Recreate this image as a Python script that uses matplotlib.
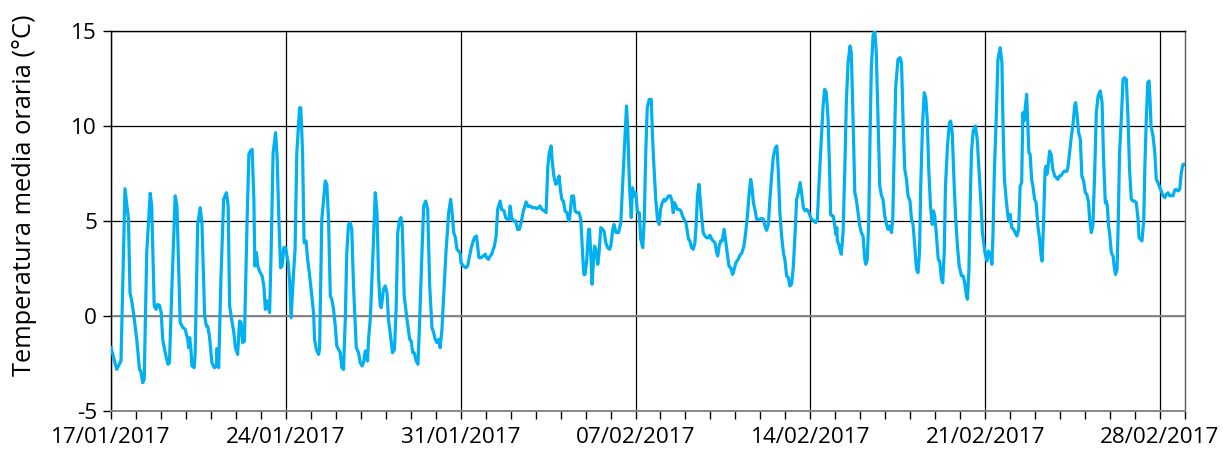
import matplotlib
matplotlib.use("Agg")
import matplotlib.pyplot as plt
import matplotlib.dates as mdates
import pandas as pd

plt.rcParams['font.family'] = ['Open Sans', 'DejaVu Sans']

START = "2017-01-17"
END = "2017-03-01"

# ---- data: (days since 17/01/2017 00:00, hourly mean temperature in °C) ----
week1_days = [0.00, 0.23, 0.36, 0.40, 0.56, 0.70, 0.76, 0.83, 0.90, 1.03,
              1.14, 1.19, 1.27, 1.33, 1.43, 1.57, 1.63, 1.73, 1.81, 1.86,
              1.94, 2.01, 2.07, 2.17, 2.28, 2.34, 2.44, 2.57, 2.64, 2.77,
              2.88, 2.97, 3.07, 3.11, 3.15, 3.20, 3.24, 3.33, 3.37, 3.47,
              3.57, 3.64, 3.75, 3.82, 3.87, 3.94, 4.04, 4.14, 4.22, 4.24,
              4.31, 4.40, 4.51, 4.62, 4.69, 4.75, 4.85, 4.91, 4.98, 5.07,
              5.15, 5.21, 5.27, 5.34, 5.45, 5.52, 5.58, 5.65, 5.72, 5.76,
              5.82, 5.88, 5.94, 6.05, 6.12, 6.18, 6.25, 6.35, 6.41, 6.49,
              6.59, 6.65, 6.72, 6.79, 6.85, 6.92, 6.99]
week1_temp = [-1.67, -2.81, -2.46, -2.37, 6.70, 5.09, 1.23, 0.79, 0.18, -1.23,
              -2.81, -2.89, -3.51, -3.33, 3.33, 6.46, 5.79, 0.53, 0.35, 0.61,
              0.56, 0.18, -1.23, -1.93, -2.54, -2.46, 1.58, 6.32, 5.79, -0.35,
              -0.61, -0.70, -1.23, -1.67, -1.14, -1.75, -2.63, -2.72, -1.93, 4.82,
              5.70, 4.91, 0.00, -0.53, -0.53, -1.05, -2.46, -2.72, -2.63, -1.72,
              -2.72, 1.93, 6.14, 6.49, 5.79, 0.53, -0.35, -0.79, -1.67, -2.02,
              -0.26, -0.35, -1.40, -1.32, 5.09, 8.51, 8.68, 8.77, 6.14, 2.63,
              3.33, 2.63, 2.37, 2.11, 1.58, 0.35, 0.79, 0.18, 3.33, 8.60,
              9.65, 8.42, 5.09, 2.54, 2.63, 3.60, 3.60]

week2_days = [7.09, 7.15, 7.21, 7.31, 7.37, 7.44, 7.55, 7.60, 7.67, 7.73,
              7.81, 7.87, 7.94, 8.04, 8.11, 8.15, 8.22, 8.31, 8.35, 8.44,
              8.58, 8.64, 8.71, 8.78, 8.84, 8.91, 8.98, 9.04, 9.11, 9.18,
              9.24, 9.31, 9.38, 9.44, 9.51, 9.58, 9.64, 9.71, 9.82, 9.91,
              9.98, 10.05, 10.11, 10.18, 10.22, 10.27, 10.31, 10.38, 10.49, 10.58,
              10.65, 10.71, 10.78, 10.82, 10.91, 10.98, 11.05, 11.11, 11.21, 11.27,
              11.35, 11.42, 11.48, 11.56, 11.61, 11.66, 11.74, 11.85, 11.96, 12.02,
              12.08, 12.14, 12.22, 12.29, 12.36, 12.45, 12.52, 12.60, 12.68, 12.76,
              12.85, 12.92, 12.98, 13.05, 13.12, 13.18, 13.25, 13.32, 13.41, 13.52,
              13.60, 13.67, 13.72, 13.79, 13.85, 13.92, 13.99]
week2_temp = [2.81, 1.93, -0.09, 2.28, 3.51, 8.60, 10.96, 10.96, 8.60, 3.86,
              3.95, 2.98, 2.28, 1.05, 0.18, -1.23, -1.75, -2.02, -1.75, 5.09,
              7.11, 6.93, 5.09, 1.05, 0.88, 0.35, -0.53, -1.58, -1.75, -1.93,
              -2.72, -2.81, -0.18, 3.33, 4.82, 4.91, 4.56, 1.58, -1.67, -1.93,
              -2.46, -2.63, -2.46, -1.84, -1.93, -2.37, -1.23, -0.18, 3.33, 6.49,
              5.44, 2.11, 0.53, 0.44, 1.40, 1.58, 1.23, -0.18, -1.23, -1.93,
              -1.75, 0.53, 4.39, 5.09, 5.18, 4.74, 1.05, -0.18, -1.23, -1.32,
              -1.93, -1.93, -2.37, -2.54, -0.18, 3.33, 5.79, 6.05, 5.61, 1.58,
              -0.61, -0.88, -1.23, -1.40, -1.23, -1.67, -0.70, 1.05, 3.33, 5.44,
              6.14, 5.26, 4.39, 4.12, 3.51, 3.42, 3.25]

week3_days = [14.01, 14.11, 14.20, 14.28, 14.37, 14.44, 14.55, 14.63, 14.68, 14.73,
              14.81, 14.91, 14.98, 15.04, 15.11, 15.18, 15.24, 15.35, 15.42, 15.48,
              15.58, 15.64, 15.74, 15.80, 15.87, 15.94, 15.98, 16.04, 16.11, 16.20,
              16.28, 16.35, 16.42, 16.51, 16.62, 16.71, 16.78, 16.87, 16.98, 17.05,
              17.11, 17.18, 17.25, 17.35, 17.42, 17.49, 17.55, 17.62, 17.67, 17.73,
              17.81, 17.87, 17.94, 17.99, 18.05, 18.11, 18.18, 18.25, 18.31, 18.35,
              18.41, 18.45, 18.52, 18.58, 18.65, 18.74, 18.81, 18.88, 18.93, 18.98,
              19.05, 19.12, 19.16, 19.22, 19.26, 19.32, 19.36, 19.41, 19.49, 19.54,
              19.61, 19.68, 19.74, 19.81, 19.88, 19.96, 20.01, 20.09, 20.14, 20.22,
              20.32, 20.41, 20.48, 20.56, 20.64, 20.69, 20.76, 20.83, 20.88, 20.95]
week3_temp = [2.81, 2.63, 2.54, 2.63, 3.25, 3.68, 4.12, 4.21, 3.68, 3.07,
              3.07, 3.16, 3.25, 3.07, 2.98, 3.16, 3.25, 3.68, 4.21, 5.61,
              6.05, 5.61, 5.53, 5.18, 5.09, 5.09, 5.79, 5.18, 5.00, 5.00,
              4.56, 4.56, 4.91, 5.53, 6.00, 5.75, 5.79, 5.70, 5.70, 5.65,
              5.70, 5.79, 5.61, 5.53, 5.44, 7.89, 8.60, 8.95, 8.07, 7.37,
              6.93, 7.02, 7.37, 6.67, 6.14, 6.05, 5.53, 5.44, 5.09, 5.00,
              5.79, 6.32, 6.32, 5.53, 5.44, 5.44, 5.09, 3.33, 2.19, 2.19,
              2.98, 4.56, 4.56, 2.98, 1.67, 2.98, 3.68, 3.51, 2.72, 3.33,
              4.65, 4.56, 4.47, 3.86, 3.60, 3.51, 3.68, 4.56, 4.82, 4.39,
              4.39, 4.91, 6.84, 8.95, 11.05, 9.82, 6.84, 5.18, 6.75, 6.32]

week4_days = [21.01, 21.08, 21.15, 21.21, 21.29, 21.35, 21.41, 21.47, 21.55, 21.63,
              21.67, 21.73, 21.81, 21.88, 21.95, 22.00, 22.07, 22.14, 22.18, 22.24,
              22.32, 22.40, 22.46, 22.51, 22.56, 22.62, 22.67, 22.75, 22.82, 22.88,
              22.95, 23.02, 23.08, 23.12, 23.18, 23.24, 23.31, 23.38, 23.44, 23.48,
              23.54, 23.59, 23.64, 23.71, 23.78, 23.85, 23.91, 23.98, 24.05, 24.11,
              24.18, 24.25, 24.29, 24.35, 24.41, 24.47, 24.55, 24.61, 24.67, 24.74,
              24.81, 24.89, 24.95, 25.02, 25.11, 25.18, 25.26, 25.34, 25.41, 25.48,
              25.54, 25.61, 25.66, 25.72, 25.78, 25.85, 25.92, 25.98, 26.05, 26.12,
              26.18, 26.25, 26.32, 26.38, 26.45, 26.52, 26.60, 26.66, 26.72, 26.78,
              26.85, 26.92, 26.98, 27.05, 27.12, 27.18, 27.25, 27.32, 27.39, 27.45,
              27.52, 27.59, 27.65, 27.72, 27.79, 27.85, 27.92, 27.99]
week4_temp = [6.49, 5.44, 5.44, 4.04, 3.60, 5.09, 8.60, 10.96, 11.40, 11.40,
              9.82, 8.07, 6.14, 5.09, 4.82, 5.61, 5.96, 6.14, 6.05, 6.14,
              6.32, 6.32, 6.05, 5.44, 5.96, 5.79, 5.61, 5.61, 5.53, 5.26,
              5.09, 4.91, 4.39, 4.04, 3.95, 3.60, 3.51, 3.86, 5.09, 6.32,
              6.93, 6.14, 5.35, 4.39, 4.21, 4.12, 4.12, 4.25, 4.04, 3.95,
              3.86, 3.33, 3.16, 3.68, 3.95, 3.95, 4.56, 3.95, 3.33, 2.63,
              2.54, 2.19, 2.46, 2.81, 2.98, 3.19, 3.33, 3.68, 4.39, 5.26,
              6.32, 7.19, 6.84, 5.96, 5.61, 5.09, 5.09, 5.09, 5.14, 5.09,
              4.74, 4.51, 4.82, 6.14, 7.37, 8.42, 8.86, 8.95, 7.54, 5.44,
              4.21, 3.33, 2.98, 2.11, 2.02, 1.58, 1.67, 2.63, 4.39, 6.14,
              6.49, 7.02, 6.49, 5.70, 5.53, 5.61, 5.53, 5.26]

week5_days = [28.05, 28.15, 28.21, 28.28, 28.33, 28.41, 28.51, 28.57, 28.64, 28.71,
              28.77, 28.81, 28.87, 28.92, 28.98, 29.02, 29.06, 29.08, 29.14, 29.18,
              29.24, 29.31, 29.38, 29.44, 29.51, 29.59, 29.64, 29.71, 29.78, 29.84,
              29.91, 29.98, 30.04, 30.11, 30.18, 30.22, 30.28, 30.34, 30.39, 30.44,
              30.51, 30.58, 30.64, 30.71, 30.78, 30.85, 30.91, 30.98, 31.05, 31.11,
              31.18, 31.25, 31.30, 31.35, 31.42, 31.51, 31.59, 31.65, 31.71, 31.78,
              31.85, 31.91, 31.99, 32.05, 32.11, 32.18, 32.25, 32.31, 32.37, 32.42,
              32.49, 32.56, 32.62, 32.68, 32.74, 32.81, 32.88, 32.93, 32.98, 33.04,
              33.12, 33.18, 33.25, 33.30, 33.36, 33.41, 33.49, 33.57, 33.62, 33.68,
              33.76, 33.82, 33.89, 33.96, 34.05, 34.12, 34.18, 34.25, 34.29, 34.35,
              34.40, 34.45, 34.52, 34.61, 34.68, 34.75, 34.83, 34.89, 34.99]
week5_temp = [5.09, 5.00, 4.91, 5.09, 6.49, 8.60, 11.05, 11.93, 11.75, 10.35,
              7.72, 5.35, 5.26, 5.26, 4.74, 4.30, 4.65, 3.95, 3.77, 3.51,
              3.25, 4.39, 7.72, 11.23, 13.33, 14.21, 13.86, 10.35, 6.49, 6.14,
              5.44, 4.74, 4.39, 4.21, 2.98, 2.72, 2.98, 5.09, 9.47, 12.98,
              14.74, 15.05, 13.86, 10.35, 6.84, 6.32, 6.14, 5.26, 4.82, 4.56,
              4.74, 4.39, 5.09, 8.25, 12.11, 13.51, 13.60, 13.33, 10.35, 7.72,
              7.19, 6.32, 6.05, 5.09, 4.82, 3.68, 2.46, 2.28, 3.33, 6.84,
              10.00, 11.75, 11.49, 10.35, 7.72, 5.79, 4.82, 5.53, 5.26, 4.39,
              2.98, 2.89, 1.93, 1.75, 3.33, 6.84, 8.95, 10.18, 10.26, 9.65,
              6.84, 5.09, 3.68, 2.63, 2.11, 2.11, 1.75, 1.05, 0.88, 2.46,
              5.96, 8.60, 9.74, 10.00, 9.30, 7.72, 5.96, 4.39, 3.33]

week6_days = [35.07, 35.13, 35.20, 35.27, 35.31, 35.37, 35.44, 35.51, 35.60, 35.67,
              35.71, 35.77, 35.84, 35.91, 35.95, 36.00, 36.06, 36.14, 36.20, 36.27,
              36.34, 36.40, 36.46, 36.51, 36.55, 36.60, 36.66, 36.70, 36.75, 36.80,
              36.86, 36.91, 36.98, 37.04, 37.11, 37.18, 37.24, 37.28, 37.34, 37.40,
              37.44, 37.48, 37.52, 37.58, 37.64, 37.71, 37.78, 37.85, 37.91, 37.98,
              38.05, 38.11, 38.18, 38.27, 38.31, 38.38, 38.45, 38.51, 38.58, 38.62,
              38.67, 38.74, 38.81, 38.87, 38.94, 39.01, 39.07, 39.14, 39.18, 39.25,
              39.31, 39.38, 39.45, 39.52, 39.61, 39.68, 39.74, 39.81, 39.85, 39.89,
              39.94, 39.98, 40.05, 40.12, 40.17, 40.22, 40.28, 40.33, 40.38, 40.45,
              40.52, 40.58, 40.65, 40.72, 40.78, 40.85, 40.92, 40.98, 41.05, 41.12,
              41.16, 41.21, 41.28, 41.35, 41.39, 41.45, 41.51, 41.56, 41.60, 41.64,
              41.72, 41.79, 41.85, 41.92, 41.99]
week6_temp = [2.89, 3.42, 3.25, 2.72, 4.21, 7.72, 10.35, 13.51, 14.12, 13.33,
              10.35, 7.19, 6.14, 5.26, 5.00, 5.35, 4.65, 4.56, 4.39, 4.21,
              4.56, 6.84, 7.02, 10.70, 10.26, 10.88, 11.67, 10.35, 8.60, 8.51,
              7.19, 6.84, 6.14, 5.96, 4.74, 4.04, 3.16, 2.89, 5.09, 7.72,
              7.89, 7.46, 7.89, 8.68, 8.51, 7.72, 7.37, 7.28, 7.19, 7.37,
              7.40, 7.54, 7.63, 7.61, 7.81, 8.60, 9.47, 10.00, 11.05, 11.23,
              10.70, 9.65, 9.30, 7.37, 7.11, 6.49, 6.40, 5.96, 5.09, 4.39,
              4.74, 7.37, 10.70, 11.58, 11.84, 11.23, 8.25, 5.96, 6.05, 5.79,
              4.74, 4.39, 3.33, 3.16, 2.54, 2.19, 2.46, 5.09, 8.60, 10.35,
              12.46, 12.54, 12.46, 10.35, 7.72, 6.14, 6.05, 6.05, 5.96, 5.09,
              4.12, 4.04, 3.95, 5.09, 7.72, 10.35, 12.28, 12.37, 11.40, 10.00,
              9.47, 8.60, 7.19, 7.02, 6.75]

week7_days = [42.05, 42.12, 42.19, 42.25, 42.32, 42.39, 42.45, 42.52, 42.59, 42.65,
              42.72, 42.79, 42.85, 42.92, 43.00]
week7_temp = [6.58, 6.32, 6.23, 6.40, 6.49, 6.32, 6.35, 6.32, 6.63, 6.67,
              6.58, 6.67, 7.54, 7.98, 7.98]

x_tick_labels = ["17/01/2017", "24/01/2017", "31/01/2017", "07/02/2017",
                 "14/02/2017", "21/02/2017", "28/02/2017"]
y_ticks = [-5, 0, 5, 10, 15]
y_label = "Temperatura media oraria (°C)"

# ---- build series ----
days = (week1_days + week2_days + week3_days + week4_days +
        week5_days + week6_days + week7_days)
temps = (week1_temp + week2_temp + week3_temp + week4_temp +
         week5_temp + week6_temp + week7_temp)
start = pd.Timestamp(START)
times = start + pd.to_timedelta(days, unit="D")

# ---- plot ----
fig = plt.figure(figsize=(12.25, 4.54), dpi=100)
ax = fig.add_axes([111 / 1225, 1 - 411 / 454, (1185 - 111) / 1225, (411 - 31) / 454])

ax.plot(times, temps, color="#00B0F0", lw=2.3, solid_joinstyle="round", zorder=3)

ax.set_ylim(-5, 15)
ax.set_yticks(y_ticks)
ax.set_yticklabels([str(v) for v in y_ticks])
ax.set_xlim(pd.Timestamp(START), pd.Timestamp(END))
xt = pd.to_datetime(x_tick_labels, format="%d/%m/%Y")
ax.set_xticks(xt)
ax.set_xticklabels(x_tick_labels)
ax.xaxis.set_minor_locator(mdates.DayLocator())

ax.grid(True, which="major", color="black", lw=0.9, zorder=1)
ax.axhline(0, color="#878787", lw=1.4, zorder=2)
ax.set_axisbelow(True)

for s in ["left", "top"]:
    ax.spines[s].set_color("black")
    ax.spines[s].set_linewidth(1.0)
ax.spines["bottom"].set_color("#878787")
ax.spines["bottom"].set_linewidth(1.4)
ax.spines["right"].set_color("#5a5a5a")
ax.spines["right"].set_linewidth(1.0)

ax.tick_params(axis="y", which="major", direction="out", length=6, width=1,
               color="black", labelsize=16.2, pad=4)
ax.tick_params(axis="x", which="both", direction="out", length=5.5, width=1,
               color="black", labelsize=16.2, pad=6)

ax.set_ylabel(y_label, fontsize=18.3)
ax.yaxis.set_label_coords(-0.069, 0.568)

fig.savefig("out.png", dpi=100)
